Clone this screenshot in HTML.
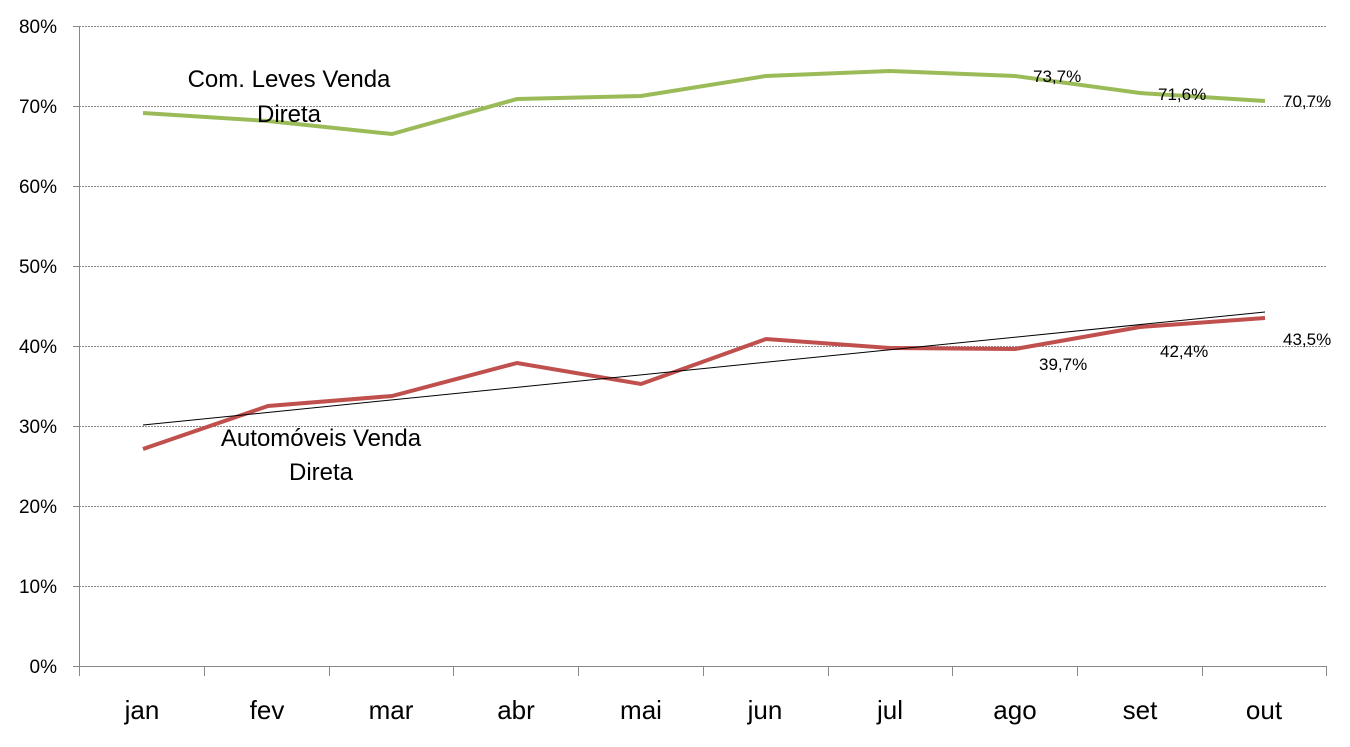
<!DOCTYPE html>
<html><head><meta charset="utf-8"><style>body{margin:0;background:#fff}</style></head><body>
<svg width="1350" height="742" xmlns="http://www.w3.org/2000/svg" font-family="Liberation Sans, sans-serif">
<g stroke="#888" stroke-width="1" stroke-dasharray="2,1">
<line x1="79" y1="26.5" x2="1327" y2="26.5"/>
<line x1="79" y1="106.5" x2="1327" y2="106.5"/>
<line x1="79" y1="186.5" x2="1327" y2="186.5"/>
<line x1="79" y1="266.5" x2="1327" y2="266.5"/>
<line x1="79" y1="346.5" x2="1327" y2="346.5"/>
<line x1="79" y1="426.5" x2="1327" y2="426.5"/>
<line x1="79" y1="506.5" x2="1327" y2="506.5"/>
<line x1="79" y1="586.5" x2="1327" y2="586.5"/>
</g>
<g stroke="#888" stroke-width="1">
<line x1="79.5" y1="26" x2="79.5" y2="666"/>
<line x1="79" y1="666.5" x2="1327" y2="666.5"/>
<path d="M73 26.5h6M73 106.5h6M73 186.5h6M73 266.5h6M73 346.5h6M73 426.5h6M73 506.5h6M73 586.5h6M73 666.5h6"/>
<path d="M79.5 666v10M204.5 666v10M329.5 666v10M453.5 666v10M578.5 666v10M703.5 666v10M828.5 666v10M952.5 666v10M1077.5 666v10M1202.5 666v10M1326.5 666v10"/>
</g>
<g font-size="19" fill="#000" text-anchor="end">
<text x="57" y="33">80%</text><text x="57" y="113">70%</text><text x="57" y="193">60%</text>
<text x="57" y="273">50%</text><text x="57" y="353">40%</text><text x="57" y="433">30%</text>
<text x="57" y="513">20%</text><text x="57" y="593">10%</text><text x="57" y="673">0%</text>
</g>
<g font-size="26" fill="#000" text-anchor="middle">
<text x="142" y="719">jan</text><text x="267" y="719">fev</text><text x="391" y="719">mar</text>
<text x="516" y="719">abr</text><text x="641" y="719">mai</text><text x="765" y="719">jun</text>
<text x="890" y="719">jul</text><text x="1015" y="719">ago</text><text x="1140" y="719">set</text>
<text x="1264" y="719">out</text>
</g>
<polyline fill="none" stroke="#9BBB59" stroke-width="4" points="143,113 268,121 392,134 517,99 641,96 766,76 890,71 1015,76 1140,93 1265,101"/>
<polyline fill="none" stroke="#C0504D" stroke-width="4" points="143,449 268,406 392,396 517,363 641,384 766,339 890,348 1015,349 1140,327 1265,318"/>
<line x1="143" y1="425" x2="1265" y2="312" stroke="#000" stroke-width="1"/>
<g font-size="17" fill="#000">
<text x="1033" y="82">73,7%</text><text x="1158" y="100">71,6%</text><text x="1283" y="107">70,7%</text>
<text x="1039" y="370">39,7%</text><text x="1160" y="357">42,4%</text><text x="1283" y="345">43,5%</text>
</g>
<g font-size="24" fill="#000" text-anchor="middle">
<text x="289" y="87">Com. Leves Venda</text><text x="289" y="122">Direta</text>
<text x="321" y="446">Automóveis Venda</text><text x="321" y="480">Direta</text>
</g>
</svg>
</body></html>
